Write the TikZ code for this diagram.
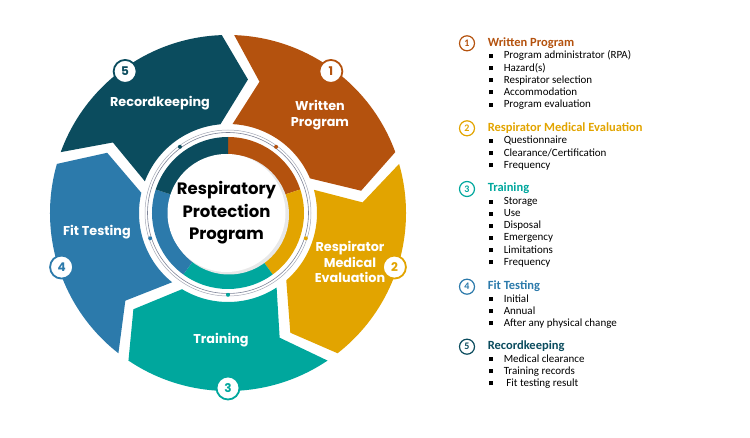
\documentclass[tikz,border=0pt]{standalone}
\usepackage{fontspec}
\setmainfont{Carlito}
\newfontfamily\wheelfont{Poppins}
\usetikzlibrary{positioning, calc}
\definecolor{wpOrange}{HTML}{B4520E}
\definecolor{rmYellow}{HTML}{E2A400}
\definecolor{trTeal}{HTML}{00A79D}
\definecolor{ftBlue}{HTML}{2C7AAB}
\definecolor{rkDark}{HTML}{0B4C5E}
\definecolor{ringGray}{HTML}{7D8296}
\newcommand\itm[1]{\makebox[15pt][l]{\rule[0.8pt]{4pt}{4pt}}#1}
\tikzset{
    seglabel/.style={text=white, font=\wheelfont\bfseries\fontsize{12.8}{15.5}\selectfont, align=center}, % labels on the arrows
    numdisc/.style={circle, draw=#1, fill=white, line width=1.8pt, text=#1, minimum size=23pt, inner sep=0pt, font=\wheelfont\bfseries\fontsize{12}{12}\selectfont},
    numring/.style={circle, draw=#1, line width=1.2pt, text=#1, minimum size=15pt, inner sep=0pt, font=\bfseries\fontsize{10}{10}\selectfont},
    heading/.style={text=#1, font=\bfseries\fontsize{12.5}{13}\selectfont, inner sep=0pt, text height=8.5pt, text depth=2.5pt},
    item/.style={font=\fontsize{11}{12}\selectfont, anchor=west, inner sep=0pt, text height=7.5pt, text depth=2.5pt},
}
\begin{document}
\begin{tikzpicture}[x=1pt, y=1pt]
\useasboundingbox (0,0) rectangle (750,437);
% the wheel
\begin{scope}[shift={(228,224)}]
    \foreach \a/\c [count=\i] in {90/wpOrange, 18/rmYellow, -54/trTeal, -126/ftBlue, -198/rkDark} {
        \pgfmathsetmacro\b{\a-72}
        \fill[\c] ({\a-2}:178) arc[start angle=\a-2, end angle=\b+2, radius=178pt]
            -- ({\b-8.5}:135) -- ({\b+4.9}:89)
            arc[start angle=\b+4.9, end angle=\a-2.9, radius=89pt]
            -- ({\a-13.5}:135) -- cycle;
        \fill[\c] (0,0) -- (\a:76) arc[start angle=\a, end angle=\b, radius=76pt] -- cycle;
    }
    \draw[ringGray, line width=0.6pt] (0,0) circle[radius=80.5pt];
    \draw[ringGray!70, line width=0.5pt] (0,0) circle[radius=83pt];
    \fill[gray!18] (1,-1.5) circle[radius=60pt];
    \node[circle, fill=white, minimum size=118pt, inner sep=0pt, align=center,
          font=\wheelfont\bfseries\fontsize{16.5}{22.5}\selectfont] (hub) at (-1.5,0)
          {Respiratory\\Protection\\Program};
    \foreach \a/\c [count=\i] in {90/wpOrange, 18/rmYellow, -54/trTeal, -126/ftBlue, -198/rkDark} {
        \fill[\c] ({\a-36}:81.8) circle[radius=2pt];
        \node[numdisc=\c] (n\i) at ({\a-36}:175) {\i};
    }
    \node[seglabel] (wp) at (92,98) {Written\\Program};
    \node[seglabel] (rm) at (122,-49) {Respirator\\Medical\\Evaluation};
    \node[seglabel] (tr) at (-7,-127) {Training};
    \node[seglabel] (ft) at (-131,-19) {Fit Testing};
    \node[seglabel] (rk) at (-68,110) {Recordkeeping};
\end{scope}
% the list
\node[numring=wpOrange] (k1) at (467,393.7) {1};
\node[heading=wpOrange, right=12.5pt of k1] (h1) {Written Program};
\foreach \t [count=\j] in {Program administrator (RPA), Hazard(s), Respirator selection, Accommodation, Program evaluation}
    \node[item] (h1-\j) at ($(h1.west)+(1,{-13.2-12.1*(\j-1)})$) {\itm{\t}};
\node[numring=rmYellow] (k2) at (467,308.7) {2};
\node[heading=rmYellow, right=12.5pt of k2] (h2) {Respirator Medical Evaluation};
\foreach \t [count=\j] in {Questionnaire, Clearance/Certification, Frequency}
    \node[item] (h2-\j) at ($(h2.west)+(1,{-13.2-12.1*(\j-1)})$) {\itm{\t}};
\node[numring=trTeal] (k3) at (467,248) {3};
\node[heading=trTeal, right=12.5pt of k3] (h3) {Training};
\foreach \t [count=\j] in {Storage, Use, Disposal, Emergency, Limitations, Frequency}
    \node[item] (h3-\j) at ($(h3.west)+(1,{-13.2-12.1*(\j-1)})$) {\itm{\t}};
\node[numring=ftBlue] (k4) at (467,150.3) {4};
\node[heading=ftBlue, right=12.5pt of k4] (h4) {Fit Testing};
\foreach \t [count=\j] in {Initial, Annual, After any physical change}
    \node[item] (h4-\j) at ($(h4.west)+(1,{-12.8-12.1*(\j-1)})$) {\itm{\t}};
\node[numring=rkDark] (k5) at (467,90.3) {5};
\node[heading=rkDark, right=12.5pt of k5] (h5) {Recordkeeping};
\foreach \t [count=\j] in {Medical clearance, Training records, \hspace{2.5pt}Fit testing result}
    \node[item] (h5-\j) at ($(h5.west)+(1,{-12.8-12.1*(\j-1)})$) {\itm{\t}};
\end{tikzpicture}
\end{document}
